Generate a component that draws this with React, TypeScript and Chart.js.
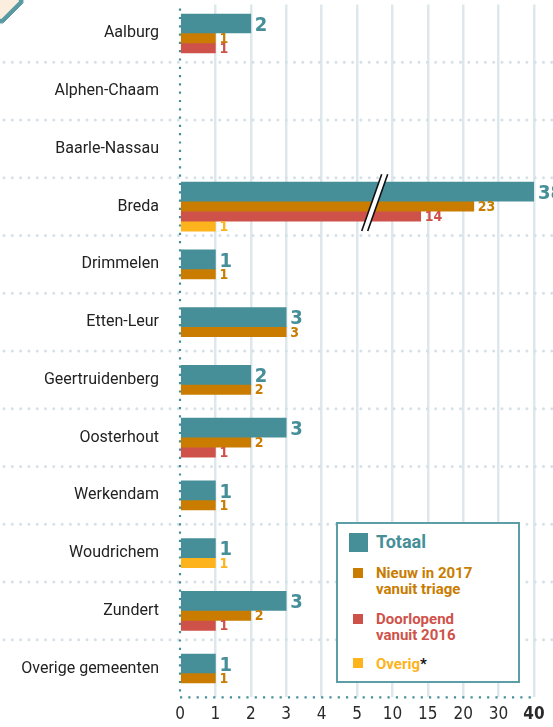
import React, { useEffect, useRef } from "react";
import { Chart, registerables } from "chart.js";

Chart.register(...registerables);

// ---------- data ----------
const CATEGORIES = [
  "Aalburg",
  "Alphen-Chaam",
  "Baarle-Nassau",
  "Breda",
  "Drimmelen",
  "Etten-Leur",
  "Geertruidenberg",
  "Oosterhout",
  "Werkendam",
  "Woudrichem",
  "Zundert",
  "Overige gemeenten",
];
const TOTAAL = [2, null, null, 38, 1, 3, 2, 3, 1, 1, 3, 1];
const NIEUW = [1, null, null, 23, 1, 3, 2, 2, 1, null, 2, 1];
const DOORLOPEND = [1, null, null, 14, null, null, null, 1, null, null, 1, null];
const OVERIG = [null, null, null, 1, null, null, null, null, null, 1, null, null];
const X_TICKS = [0, 1, 2, 3, 4, 5, 10, 15, 20, 30, 40];
const BROKEN_CATEGORY = "Breda";
const BREAK_VALUE = 7.5;

// ---------- styling ----------
const TEAL = "#468f99";
const ORANGE = "#c97c00";
const RED = "#cf524a";
const YELLOW = "#fdb41c";
const NARROW = "'Liberation Sans Narrow', 'DejaVu Sans Condensed', Roboto, sans-serif";
const W = 553;
const H = 727;
const PAD_TOP = 4.6;
const X_AXIS_H = 29.6;
const Y_AXIS_W = 180;
const PAD_RIGHT = 19;
const ROW_PX = (H - PAD_TOP - X_AXIS_H) / CATEGORIES.length;

const SERIES = [
  { name: "Totaal", values: TOTAAL, color: TEAL, thick: 19, labelSize: 20 },
  { name: "Nieuw in 2017 vanuit triage", values: NIEUW, color: ORANGE, thick: 10, labelSize: 14 },
  { name: "Doorlopend vanuit 2016", values: DOORLOPEND, color: RED, thick: 10, labelSize: 14 },
  { name: "Overig", values: OVERIG, color: YELLOW, thick: 10, labelSize: 14 },
];

function toAxis(v: number, broken: boolean): number {
  const last = X_TICKS.length - 1;
  if (v >= X_TICKS[last] || (broken && v > X_TICKS[last - 1])) return last;
  for (let i = 0; i < last; i++) {
    if (v <= X_TICKS[i + 1]) {
      return i + (v - X_TICKS[i]) / (X_TICKS[i + 1] - X_TICKS[i]);
    }
  }
  return last;
}

function buildSlots() {
  const slots: any[][] = [[], [], [], []];
  CATEGORIES.forEach((cat, i) => {
    const present = SERIES.map((s, si) => ({ s, si })).filter((o) => o.s.values[i] != null);
    const span = present.reduce((a, o) => a + o.s.thick, 0);
    let top = -span / 2;
    present.forEach((o, k) => {
      const center = top + o.s.thick / 2;
      top += o.s.thick;
      const v = o.s.values[i] as number;
      slots[k].push({
        x: toAxis(v, cat === BROKEN_CATEGORY),
        y: i + center / ROW_PX,
        si: o.si,
        v,
      });
    });
  });
  return slots;
}

const decorPlugin = {
  id: "decor",
  beforeDatasetsDraw(chart: any) {
    const { ctx, scales, chartArea } = chart;
    const xs = scales.x;
    const ys = scales.y;
    ctx.save();
    // row separators
    ctx.strokeStyle = "#d5e0e7";
    ctx.lineWidth = 3;
    ctx.lineCap = "round";
    ctx.setLineDash([0, 8.3]);
    for (let i = 0; i < CATEGORIES.length - 1; i++) {
      const y = ys.getPixelForValue(i + 0.5);
      ctx.beginPath();
      ctx.moveTo(4, y);
      ctx.lineTo(chart.width, y);
      ctx.stroke();
    }
    // dotted axes
    ctx.strokeStyle = TEAL;
    ctx.lineWidth = 2.2;
    ctx.lineCap = "butt";
    ctx.setLineDash([2.2, 6.1]);
    const x0 = xs.getPixelForValue(0);
    ctx.beginPath();
    ctx.moveTo(x0, chartArea.top + 4);
    ctx.lineTo(x0, chartArea.bottom);
    ctx.stroke();
    ctx.beginPath();
    ctx.moveTo(x0, chartArea.bottom);
    ctx.lineTo(chartArea.right + 2, chartArea.bottom);
    ctx.stroke();
    ctx.restore();
  },
  afterDatasetsDraw(chart: any) {
    const { ctx, scales } = chart;
    const xs = scales.x;
    const ys = scales.y;
    ctx.save();
    // value labels
    chart.data.datasets.forEach((ds: any, k: number) => {
      const meta = chart.getDatasetMeta(k);
      meta.data.forEach((el: any, j: number) => {
        const p = ds.data[j];
        const s = SERIES[p.si];
        ctx.font = `bold ${s.labelSize}px ${NARROW}`;
        ctx.fillStyle = s.color;
        ctx.textAlign = "left";
        ctx.textBaseline = "alphabetic";
        ctx.fillText(String(p.v), el.x + 4, el.y + s.labelSize * 0.36);
      });
    });
    // axis break symbol
    const bi = CATEGORIES.indexOf(BROKEN_CATEGORY);
    if (bi >= 0) {
      const top = ys.getPixelForValue(bi - 0.5) - 3.5;
      const bot = ys.getPixelForValue(bi + 0.5) - 4.5;
      const cx = xs.getPixelForValue(toAxis(BREAK_VALUE, false));
      const tx = cx + 10;
      const bx = cx - 10;
      ctx.fillStyle = "#ffffff";
      ctx.beginPath();
      ctx.moveTo(tx - 3, top);
      ctx.lineTo(tx + 3, top);
      ctx.lineTo(bx + 3, bot);
      ctx.lineTo(bx - 3, bot);
      ctx.closePath();
      ctx.fill();
      ctx.strokeStyle = "#111";
      ctx.lineWidth = 1.6;
      ctx.beginPath();
      ctx.moveTo(tx - 3, top);
      ctx.lineTo(bx - 3, bot);
      ctx.moveTo(tx + 3, top);
      ctx.lineTo(bx + 3, bot);
      ctx.stroke();
    }
    ctx.restore();
  },
};

export default function App() {
  const ref = useRef<HTMLCanvasElement | null>(null);

  useEffect(() => {
    if (!ref.current) return;
    const slots = buildSlots();
    const chart = new Chart(ref.current, {
      type: "bar",
      data: {
        datasets: slots.map((pts, k) => ({
          label: `slot${k}`,
          data: pts,
          backgroundColor: pts.map((p: any) => SERIES[p.si].color),
          barThickness: k === 0 ? SERIES[0].thick : 10,
          grouped: false,
          borderWidth: 0,
        })),
      },
      options: {
        indexAxis: "y",
        responsive: false,
        animation: false,
        layout: { padding: { top: PAD_TOP, right: PAD_RIGHT, left: 0, bottom: 0 } },
        plugins: { legend: { display: false }, tooltip: { enabled: false } },
        scales: {
          x: {
            type: "linear",
            min: 0,
            max: X_TICKS.length - 1,
            offset: false,
            afterBuildTicks: (scale: any) => {
              scale.ticks = X_TICKS.map((_, i) => ({ value: i }));
            },
            afterFit: (scale: any) => {
              scale.height = X_AXIS_H;
            },
            grid: {
              color: (c: any) => (c.index === 0 ? "rgba(0,0,0,0)" : "#dde7ec"),
              lineWidth: 2.5,
              drawTicks: false,
              offset: false,
            },
            border: { display: false },
            ticks: {
              autoSkip: false,
              maxRotation: 0,
              padding: 7,
              color: "#2a2a2a",
              font: (c: any) => ({
                family: NARROW,
                size: 17,
                weight: c.index === X_TICKS.length - 1 ? "bold" : "normal",
              }),
              callback: (v: any) => String(X_TICKS[Math.round(v)]),
            },
          },
          y: {
            type: "linear",
            reverse: true,
            offset: false,
            min: -0.5,
            max: CATEGORIES.length - 0.5,
            afterBuildTicks: (scale: any) => {
              scale.ticks = CATEGORIES.map((_, i) => ({ value: i }));
            },
            afterFit: (scale: any) => {
              scale.width = Y_AXIS_W;
              scale.paddingTop = 0;
              scale.paddingBottom = 0;
            },
            grid: { display: false, drawTicks: false, offset: false },
            border: { display: false },
            ticks: {
              autoSkip: false,
              padding: 21,
              color: "#222",
              font: { family: "Roboto, sans-serif", size: 16 },
              callback: (v: any) => CATEGORIES[Math.round(v)],
            },
          },
        },
      } as any,
      plugins: [decorPlugin],
    });
    return () => chart.destroy();
  }, []);

  const sq = (left: number, top: number, size: number, color: string) => (
    <div style={{ position: "absolute", left, top, width: size, height: size, background: color }} />
  );
  const txt: React.CSSProperties = {
    position: "absolute",
    left: 38,
    fontFamily: "Roboto, sans-serif",
    fontWeight: 700,
    fontSize: 15,
    lineHeight: "16px",
    whiteSpace: "nowrap",
  };

  return (
    <div style={{ position: "absolute", left: 0, top: 0, width: W, height: H, overflow: "hidden", background: "#fff" }}>
      <canvas ref={ref} width={W} height={H} style={{ display: "block", width: W, height: H }} />
      <div
        style={{
          position: "absolute",
          left: -16,
          top: -16,
          width: 34,
          height: 34,
          boxSizing: "border-box",
          background: "#fbeedf",
          border: "4px solid #5a9aa2",
          borderRadius: 4,
          transform: "rotate(45deg)",
        }}
      />
      <div
        style={{
          position: "absolute",
          left: 336,
          top: 522,
          width: 184,
          height: 161,
          boxSizing: "border-box",
          border: "2px solid #5d9ea6",
          background: "#fff",
        }}
      >
        {sq(11, 9, 19, TEAL)}
        <div style={{ ...txt, top: 9.2, fontSize: 18, lineHeight: "18px", color: TEAL }}>Totaal</div>
        {sq(15, 44, 10, ORANGE)}
        <div style={{ ...txt, top: 41.2, color: ORANGE }}>
          Nieuw in 2017
          <br />
          vanuit triage
        </div>
        {sq(15, 90, 10, RED)}
        <div style={{ ...txt, top: 87.4, color: RED }}>
          Doorlopend
          <br />
          vanuit 2016
        </div>
        {sq(15, 134, 10, YELLOW)}
        <div style={{ ...txt, top: 132.4, color: YELLOW }}>
          Overig<span style={{ color: "#111" }}>*</span>
        </div>
      </div>
    </div>
  );
}
